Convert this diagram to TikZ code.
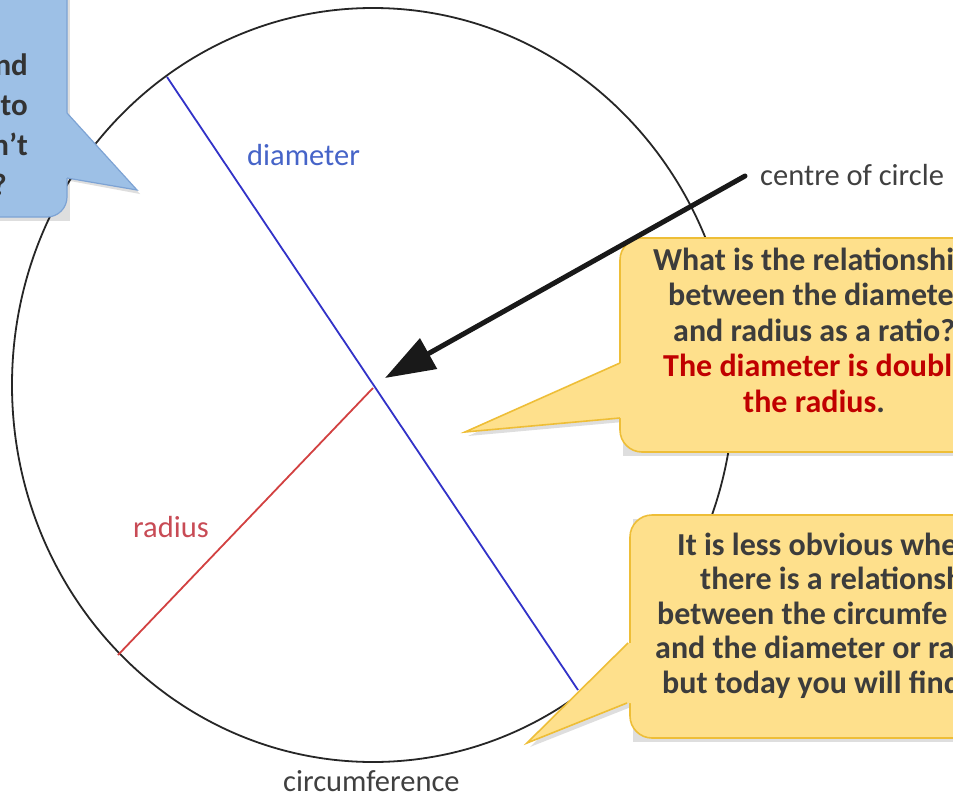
\documentclass[tikz,border=0pt]{standalone}
\usepackage{fontspec}
\setmainfont{Carlito}
\usetikzlibrary{arrows.meta,shapes.geometric}
\definecolor{ink}{RGB}{60,60,60}
\definecolor{lab}{RGB}{64,64,64}
\definecolor{darkred}{RGB}{192,0,0}
\definecolor{diamc}{RGB}{50,50,200}
\definecolor{diamt}{RGB}{70,100,200}
\definecolor{radc}{RGB}{210,65,65}
\definecolor{radt}{RGB}{200,75,85}
\definecolor{yfill}{RGB}{254,224,140}
\definecolor{yline}{RGB}{238,190,55}
\definecolor{bfill}{RGB}{157,192,230}
\definecolor{bline}{RGB}{125,163,212}
\tikzset{
  outline/.style={draw=black!85, line width=1.8pt},
  diamline/.style={draw=diamc, line width=1.8pt},
  radline/.style={draw=radc, line width=1.8pt},
  label/.style={inner sep=0pt, font=\fontsize{30.5pt}{36pt}\selectfont},
  ybox/.style={fill=yfill, draw=yline, line width=1.6pt, rounded corners=22pt},
  yedge/.style={draw=yline, line width=1.6pt},
  bbox/.style={fill=bfill, draw=bline, line width=1.2pt, rounded corners=20pt},
  bedge/.style={draw=bline, line width=1.2pt},
  shade/.style={fill=black, opacity=0.13},
  ytext/.style={inner sep=0pt, align=left, text=ink, font=\fontsize{32pt}{35.5pt}\selectfont\bfseries},
  pointer/.style={line width=5pt, line cap=round, draw=black!90, -{Triangle[length=50pt,width=34pt]}}
}
\begin{document}
\begin{tikzpicture}[x=1pt,y=-1pt]
\useasboundingbox (0,0) rectangle (953,797);
\clip (0,0) rectangle (953,797);
\fill[white] (0,0) rectangle (953,797);

% circle
\node[outline, ellipse, minimum width=722pt, minimum height=754pt, inner sep=0pt] (circ) at (373,385) {};
\coordinate (dA) at (167,77);
\coordinate (dB) at (578,690);
\coordinate (ctr) at (373,388);
\coordinate (rE) at (118,655);
\draw[diamline] (dA) -- (dB);
\draw[radline] (ctr) -- (rE);

% labels
\node[label, text=diamt, anchor=base west] (ldiam) at (247,165) {diameter};
\node[label, text=radt, anchor=base west] (lrad) at (133,537) {radius};
\node[label, text=lab, anchor=base west] (lcirc) at (283,791) {circumference};
\node[label, text=lab, anchor=base west] (lcentre) at (760,185) {centre of circle};

% blue callout
\fill[shade] (-30,-30) rectangle (70,221);
\fill[shade] (70,116) -- (140,194) -- (70,181) -- cycle;
\path[bbox] (-30,-30) rectangle (67,217);
\fill[bfill] (67,113) -- (137,190) -- (67,178) -- (62,178) -- (62,113) -- cycle;
\draw[bedge] (67,113) -- (137,190) -- (67,178);
\node[ytext, align=right, text=black!80, anchor=base east,
  font=\fontsize{31pt}{40pt}\selectfont\bfseries] (btext) at (28,195)
  {nd\\to\\n’t\hspace*{5pt}\\?\hspace*{21pt}};

% yellow callout 1
\fill[shade] (623,242) rectangle (1010,456);
\fill[shade] (623,367) -- (468,436) -- (623,422) -- cycle;
\path[ybox] (620,238) rectangle (1010,452);
\fill[yfill] (620,363) -- (465,432) -- (620,418) -- (627,418) -- (627,363) -- cycle;
\draw[yedge] (620,363) -- (465,432) -- (620,418);
\node[ytext, anchor=base west] (q1) at (653,412)
  {What is the relationshi\\
   \hspace*{15pt}between the diameter\\
   \hspace*{20pt}and radius as a ratio?\\
   \hspace*{10pt}\textcolor{darkred}{The diameter is double}\\
   \hspace*{90pt}\textcolor{darkred}{the radius}.};

% yellow callout 2
\fill[shade] (633,519) rectangle (1010,742);
\fill[shade] (631,647) -- (530,747) -- (631,707) -- cycle;
\path[ybox] (630,515) rectangle (1010,738);
\fill[yfill] (628,643) -- (527,743) -- (627,703) -- (636,703) -- (636,643) -- cycle;
\draw[yedge] (628,643) -- (527,743) -- (627,703);
\node[ytext, anchor=base west, font=\fontsize{32pt}{34.5pt}\selectfont\bfseries] (q2) at (655,693)
  {\hspace*{22pt}It is less obvious whe\\
   \hspace*{45pt}there is a relationsh\\
   \hspace*{2pt}between the circumfe\\
   and the diameter or ra\\
   \hspace*{7pt}but today you will find};

% pointer to centre
\coordinate (arS) at (745,176);
\coordinate (arT) at (385,378);
\draw[pointer] (arS) -- (arT);
\end{tikzpicture}
\end{document}
